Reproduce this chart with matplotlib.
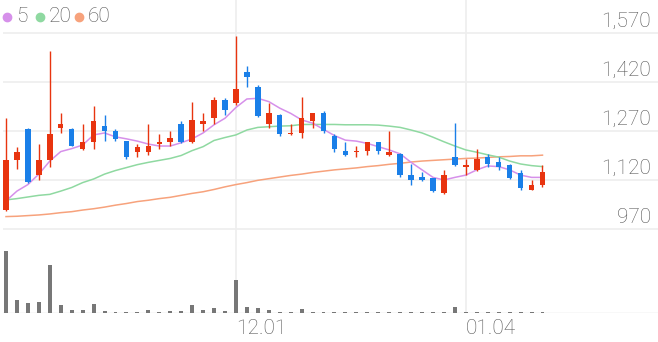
import matplotlib
matplotlib.use('Agg')
import numpy as np
import matplotlib.pyplot as plt
import matplotlib.transforms as mtransforms
from matplotlib.lines import Line2D

plt.rcParams['font.family'] = ['Roboto', 'DejaVu Sans']

# daily candles
opens = [1028, 1180, 1275, 1135, 1180, 1280, 1275, 1215, 1235, 1285,
         1270, 1240, 1205, 1205, 1230, 1235, 1290, 1235, 1290, 1310,
         1365, 1355, 1450, 1405, 1290, 1320, 1260, 1265, 1300, 1325,
         1255, 1210, 1205, 1210, 1235, 1195, 1200, 1135, 1130, 1125,
         1080, 1190, 1160, 1150, 1190, 1175, 1165, 1140, 1090, 1105]
highs = [1310, 1220, 1280, 1230, 1515, 1325, 1280, 1290, 1345, 1320,
         1275, 1240, 1230, 1290, 1260, 1270, 1300, 1360, 1325, 1375,
         1370, 1560, 1470, 1410, 1355, 1322, 1290, 1375, 1325, 1330,
         1260, 1235, 1225, 1235, 1237, 1270, 1202, 1170, 1145, 1127,
         1150, 1295, 1185, 1215, 1200, 1190, 1170, 1150, 1120, 1165]
lows = [1025, 1155, 1110, 1120, 1160, 1265, 1225, 1213, 1215, 1240,
        1240, 1185, 1190, 1195, 1215, 1225, 1233, 1233, 1270, 1290,
        1320, 1350, 1405, 1313, 1280, 1255, 1258, 1250, 1280, 1265,
        1205, 1193, 1190, 1195, 1200, 1193, 1130, 1105, 1118, 1083,
        1078, 1163, 1135, 1148, 1160, 1150, 1123, 1090, 1088, 1100]
closes = [1180, 1205, 1115, 1180, 1260, 1290, 1225, 1235, 1300, 1270,
          1245, 1190, 1220, 1225, 1235, 1250, 1235, 1305, 1300, 1365,
          1335, 1400, 1435, 1315, 1325, 1260, 1264, 1310, 1325, 1270,
          1215, 1195, 1210, 1235, 1210, 1205, 1135, 1120, 1120, 1085,
          1135, 1165, 1165, 1185, 1170, 1160, 1125, 1095, 1105, 1145]
volume = [1850, 380, 300, 340, 1440, 230, 80, 80, 270, 60,
          20, 30, 30, 100, 40, 60, 60, 230, 80, 140,
          60, 980, 170, 140, 80, 30, 30, 130, 30, 30,
          40, 20, 30, 30, 30, 20, 30, 30, 30, 30,
          30, 190, 30, 40, 30, 30, 30, 20, 30, 20]

# moving averages as drawn (they use days before the window)
ma5 = [1056, 1086, 1106, 1138, 1178, 1207, 1216, 1227, 1258, 1264,
       1252, 1246, 1239, 1230, 1224, 1224, 1234, 1246, 1264, 1289,
       1309, 1342, 1368, 1370, 1360, 1340, 1324, 1304, 1294, 1275,
       1256, 1242, 1239, 1232, 1222, 1212, 1200, 1174, 1151, 1128,
       1120, 1128, 1135, 1151, 1163, 1161, 1151, 1135, 1128, 1128]
ma20 = [1059, 1063, 1068, 1073, 1076, 1086, 1097, 1112, 1123, 1138,
        1149, 1158, 1167, 1174, 1180, 1186, 1195, 1210, 1222, 1241,
        1250, 1258, 1273, 1281, 1283, 1285, 1286, 1290, 1290, 1290,
        1290, 1289, 1289, 1289, 1288, 1285, 1281, 1273, 1264, 1251,
        1237, 1224, 1212, 1205, 1197, 1190, 1178, 1169, 1164, 1161]
ma60 = [1008, 1009, 1011, 1013, 1016, 1020, 1023, 1028, 1032, 1037,
        1043, 1048, 1054, 1058, 1063, 1067, 1073, 1079, 1084, 1091,
        1099, 1106, 1112, 1119, 1124, 1129, 1134, 1138, 1143, 1147,
        1151, 1154, 1157, 1161, 1164, 1168, 1171, 1175, 1178, 1180,
        1182, 1184, 1186, 1187, 1189, 1191, 1192, 1194, 1194, 1196]

date_pos = [21, 42]
date_labels = ['12.01', '01.04']
price_ticks = [970, 1120, 1270, 1420, 1570]

up_col, down_col = '#e8340f', '#1a7fe8'
grid_col = '#eeeeee'
text_col = '#555555'

W, H = 658, 342
fig = plt.figure(figsize=(W / 100, H / 100), dpi=100)

# price panel: pixel rows 0..232, volume panel: 232..313
ax = fig.add_axes([3 / W, (H - 232) / H, 655 / W, 232 / H])
axv = fig.add_axes([3 / W, (H - 313) / H, 655 / W, 81 / H], sharex=ax)

x = np.arange(len(closes))
o, h, l, c = map(np.array, (opens, highs, lows, closes))
cols = np.where(c >= o, up_col, down_col)

for yv in price_ticks:
    ax.axhline(yv, color=grid_col, lw=1.2, zorder=0)
for xv in date_pos:
    ax.axvline(xv, color=grid_col, lw=1.2, zorder=0)
    axv.axvline(xv, color=grid_col, lw=1.2, zorder=0)

ax.plot(x, ma60, color='#f7a27c', lw=1.1, zorder=1)
ax.plot(x, ma20, color='#8fd9a1', lw=1.1, zorder=1)
ax.plot(x, ma5, color='#d690ea', lw=1.1, zorder=1)

ax.vlines(x, l, h, colors=cols, lw=1.0, zorder=2)
ax.bar(x, np.maximum(np.abs(c - o), 2), bottom=np.minimum(o, c),
       width=0.5, color=cols, zorder=3)

ax.set_xlim(-0.274, 59.55)
ax.set_ylim(960.8, 1671.0)
ax.axis('off')

for yv in price_ticks:
    ax.annotate('{:,}'.format(yv), xy=(0.9893, yv),
                xycoords=('axes fraction', 'data'),
                xytext=(0, 4.5), textcoords='offset points',
                ha='right', va='baseline', fontsize=15,
                color=text_col, fontweight='light')

axv.bar(x, volume, width=0.36, color='#777777', zorder=2)
axv.axhline(0, color='#e0e0e0', lw=1.0, zorder=1)
axv.set_ylim(0, 1850 * 81 / 61.7)
axv.axis('off')

trans = mtransforms.blended_transform_factory(axv.transData, fig.transFigure)
for xv, lab in zip(date_pos, date_labels):
    axv.text(xv + 0.02, (H - 329) / H, lab, transform=trans, ha='left',
             va='center', fontsize=15, color=text_col, fontweight='light')

# legend
leg = [('5', '#d690ea', 7), ('20', '#8fd9a1', 40), ('60', '#f7a27c', 79)]
for lab, col, px in leg:
    fig.add_artist(Line2D([px / W], [(H - 17) / H], marker='o',
                          markersize=6, color=col, lw=0,
                          transform=fig.transFigure))
    fig.text((px + 9) / W, (H - 17) / H, lab, ha='left', va='center',
             fontsize=15, color=text_col, fontweight='light')

fig.savefig('out.png', dpi=100)
